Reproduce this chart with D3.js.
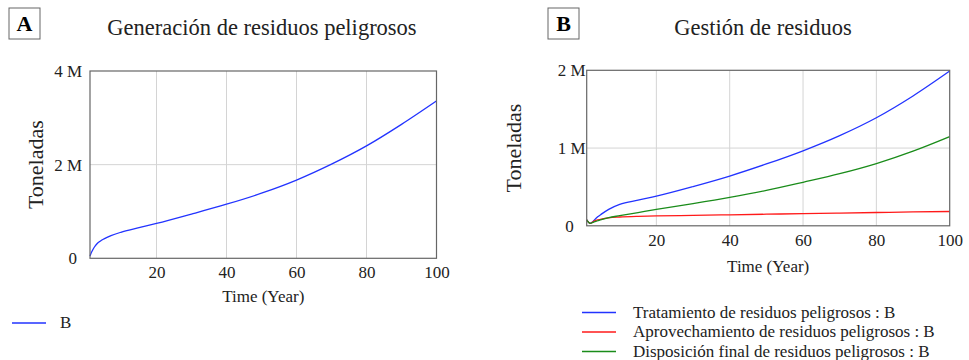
<!DOCTYPE html>
<html>
<head>
<meta charset="utf-8">
<script src="https://cdn.jsdelivr.net/npm/d3@7"></script>
<style>
  body { margin: 0; background: #fff; }
  svg { display: block; }
  svg text { font-family: "Liberation Serif", "Times New Roman", "DejaVu Serif", serif; }
</style>
</head>
<body>
<svg id="chart" width="969" height="360"></svg>
<script>
const FONT = '"Liberation Serif", "Times New Roman", serif';

// values (tonnes)
const years = [1, 1.5, 2, 2.5, 3, 4, 5, 7, 10, 15, 20, 30, 40, 50, 60, 70, 80, 90, 100];
const generacion = [0.05e6, 0.14e6, 0.21e6, 0.265e6, 0.31e6, 0.37e6, 0.415e6, 0.485e6, 0.56e6, 0.655e6, 0.745e6,
  0.945e6, 1.155e6, 1.39e6, 1.67e6, 2.01e6, 2.40e6, 2.86e6, 3.36e6];
const tratamiento = [0.075e6, 0.045e6, 0.032e6, 0.045e6, 0.07e6, 0.115e6, 0.15e6, 0.212e6, 0.275e6, 0.33e6, 0.382e6,
  0.505e6, 0.64e6, 0.795e6, 0.965e6, 1.16e6, 1.39e6, 1.67e6, 1.99e6];
const aprovechamiento = [0.075e6, 0.045e6, 0.032e6, 0.045e6, 0.06e6, 0.075e6, 0.087e6, 0.103e6, 0.113e6, 0.122e6, 0.127e6,
  0.134e6, 0.141e6, 0.149e6, 0.157e6, 0.164e6, 0.171e6, 0.178e6, 0.184e6];
const disposicion = [0.075e6, 0.045e6, 0.032e6, 0.04e6, 0.05e6, 0.065e6, 0.08e6, 0.105e6, 0.13e6, 0.17e6, 0.21e6,
  0.285e6, 0.365e6, 0.455e6, 0.56e6, 0.67e6, 0.80e6, 0.96e6, 1.147e6];

const xTicks = [20, 40, 60, 80, 100];
const seriesA = [{ name: 'B', values: generacion, color: '#2233ff' }];
const seriesB = [
  { name: 'Tratamiento de residuos peligrosos : B', values: tratamiento, color: '#2233ff' },
  { name: 'Aprovechamiento de residuos peligrosos : B', values: aprovechamiento, color: '#ff1a1a' },
  { name: 'Disposición final de residuos peligrosos : B', values: disposicion, color: '#1a8c1a' }
];

const svg = d3.select('#chart');

function fmtM(d) {
  return d === 0 ? '0' : `${d / 1e6} M`;
}

function drawPanel(p) {
  const g = svg.append('g');

  const x = d3.scaleLinear().domain([1, 100]).range([p.left, p.right]);
  const y = d3.scaleLinear().domain([0, p.yMax]).range([p.bottom, p.top]);

  // panel letter box
  g.append('rect')
    .attr('x', p.boxX).attr('y', 8)
    .attr('width', 31).attr('height', 31)
    .attr('fill', '#fff').attr('stroke', '#666').attr('stroke-width', 1);
  g.append('text')
    .attr('x', p.boxX + 15.5).attr('y', 31)
    .attr('text-anchor', 'middle')
    .style('font-family', FONT)
    .style('font-size', '22px').style('font-weight', 'bold')
    .text(p.letter);

  // title
  g.append('text')
    .attr('x', p.titleX).attr('y', 35)
    .attr('text-anchor', 'middle')
    .style('font-family', FONT)
    .style('font-size', '22.5px').attr('fill', '#222')
    .text(p.title);

  // grid
  g.append('g')
    .selectAll('line')
    .data(xTicks.filter((t) => t < 100))
    .join('line')
    .attr('x1', (d) => x(d)).attr('x2', (d) => x(d))
    .attr('y1', p.top).attr('y2', p.bottom)
    .attr('stroke', '#d4d4d4');
  g.append('g')
    .selectAll('line')
    .data(p.yTicks.filter((t) => t > 0 && t < p.yMax))
    .join('line')
    .attr('x1', p.left).attr('x2', p.right)
    .attr('y1', (d) => y(d)).attr('y2', (d) => y(d))
    .attr('stroke', '#d4d4d4');

  // axes (labels only, frame drawn separately)
  const xAxis = g.append('g')
    .attr('transform', `translate(0,${p.bottom})`)
    .call(d3.axisBottom(x).tickValues(xTicks).tickSize(0).tickPadding(p.xPad));
  xAxis.select('.domain').remove();
  xAxis.selectAll('text')
    .style('font-family', FONT)
    .style('font-size', '17px').attr('fill', '#222');

  const yAxis = g.append('g')
    .attr('transform', `translate(${p.left},0)`)
    .call(d3.axisLeft(y).tickValues(p.yTicks).tickFormat(fmtM).tickSize(0).tickPadding(p.yPad));
  yAxis.select('.domain').remove();
  yAxis.selectAll('text')
    .style('font-family', FONT)
    .style('font-size', '17px').attr('fill', '#222')
    .attr('dx', (d) => (d === 0 ? -p.zeroShift : 0));

  // series
  const line = d3.line()
    .x((d, i) => x(years[i]))
    .y((d) => y(d))
    .curve(d3.curveMonotoneX);

  p.series.forEach((s) => {
    g.append('path')
      .datum(s.values)
      .attr('fill', 'none')
      .attr('stroke', s.color)
      .attr('stroke-width', 1.3)
      .attr('d', line);
  });

  // frame
  g.append('rect')
    .attr('x', p.left).attr('y', p.top)
    .attr('width', p.right - p.left).attr('height', p.bottom - p.top)
    .attr('fill', 'none').attr('stroke', '#666').attr('stroke-width', 1.2);

  // axis titles
  g.append('text')
    .attr('transform', `translate(${p.yTitleX},${(p.top + p.bottom) / 2}) rotate(-90)`)
    .attr('text-anchor', 'middle')
    .style('font-family', FONT)
    .style('font-size', '22px').attr('fill', '#222')
    .text('Toneladas');
  g.append('text')
    .attr('x', (p.left + p.right) / 2).attr('y', p.xTitleY)
    .attr('text-anchor', 'middle')
    .style('font-family', FONT)
    .style('font-size', '17px').attr('fill', '#222')
    .text('Time (Year)');

  // legend
  const leg = g.append('g')
    .selectAll('g')
    .data(p.series)
    .join('g')
    .attr('transform', (d, i) => `translate(${p.legX},${p.legY + i * 19.5})`);
  leg.append('line')
    .attr('x1', 0).attr('x2', 34)
    .attr('stroke', (d) => d.color).attr('stroke-width', 1.5);
  leg.append('text')
    .attr('x', p.legTextDx).attr('y', 5)
    .style('font-family', FONT)
    .style('font-size', '17px').attr('fill', '#222')
    .text((d) => d.name);
}

drawPanel({
  letter: 'A', boxX: 9, title: 'Generación de residuos peligrosos', titleX: 262,
  left: 90, right: 436.5, top: 71, bottom: 258.3,
  yMax: 4e6, yTicks: [0, 2e6, 4e6], xPad: 8, yPad: 8, zeroShift: 5,
  yTitleX: 43, xTitleY: 302,
  series: seriesA, legX: 12, legY: 323, legTextDx: 48
});

drawPanel({
  letter: 'B', boxX: 548, title: 'Gestión de residuos', titleX: 763,
  left: 586.7, right: 949.7, top: 70.3, bottom: 225.8,
  yMax: 2e6, yTicks: [0, 1e6, 2e6], xPad: 8, yPad: 1, zeroShift: 12,
  yTitleX: 521, xTitleY: 272,
  series: seriesB, legX: 582, legY: 312.5, legTextDx: 51
});
</script>
</body>
</html>
